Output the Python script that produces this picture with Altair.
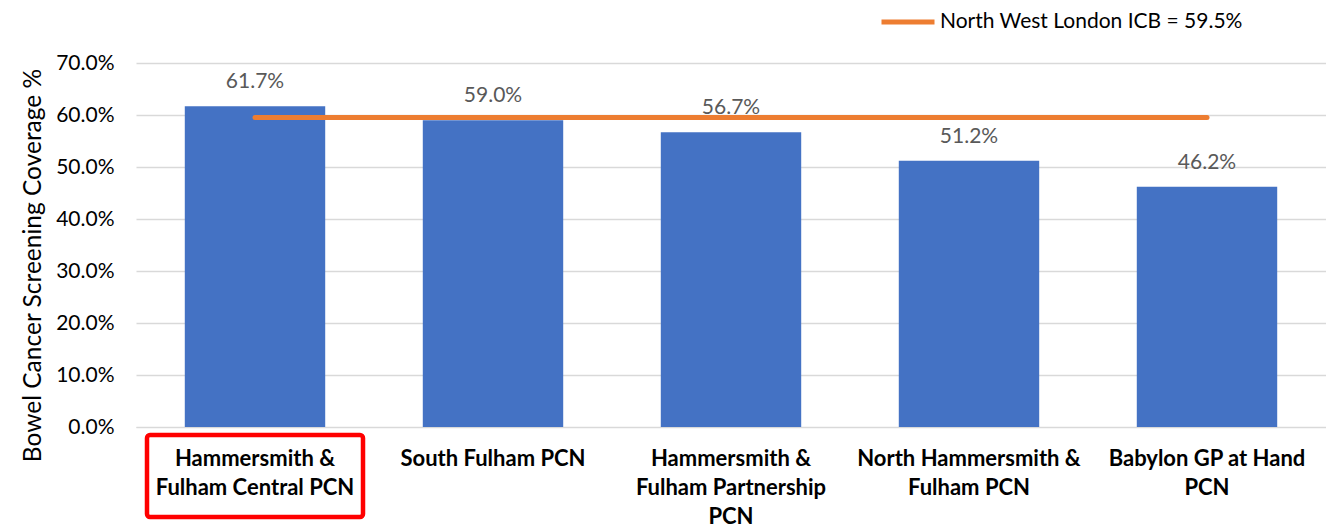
import altair as alt
import pandas as pd

categories = [
    "Hammersmith & Fulham Central PCN",
    "South Fulham PCN",
    "Hammersmith & Fulham Partnership PCN",
    "North Hammersmith & Fulham PCN",
    "Babylon GP at Hand PCN",
]
tick_labels = [
    "Hammersmith &|Fulham Central PCN",
    "South Fulham PCN",
    "Hammersmith &|Fulham Partnership|PCN",
    "North Hammersmith &|Fulham PCN",
    "Babylon GP at Hand|PCN",
]
coverage = [61.7, 59.0, 56.7, 51.2, 46.2]
icb_label = "North West London ICB = 59.5%"
icb_value = 59.5
highlighted = ["Hammersmith & Fulham Central PCN"]

FONT = "Lato"

df = pd.DataFrame({"cat": categories, "label": tick_labels, "value": coverage})
df["icb"] = icb_value
df["series"] = icb_label

label_map = "{" + ",".join(f'"{c}":"{l}"' for c, l in zip(categories, tick_labels)) + "}"

x = alt.X(
    "cat:N",
    sort=categories,
    scale=alt.Scale(paddingInner=0.41, paddingOuter=0.205),
    axis=alt.Axis(
        title=None,
        labelExpr=f"split({label_map}[datum.value], '|')",
        labelAngle=0,
        labelFont=FONT,
        labelFontSize=22,
        labelFontWeight="bold",
        labelColor="#000000",
        labelLineHeight=29,
        labelPadding=21,
        labelBaseline="top",
        ticks=False,
        domainColor="#d9d9d9",
        labelLimit=300,
    ),
)

base = alt.Chart(df)

bars = base.mark_bar(color="#4472C4").encode(
    x=x,
    y=alt.Y(
        "value:Q",
        scale=alt.Scale(domain=[0, 70]),
        axis=alt.Axis(
            title="Bowel Cancer Screening Coverage %",
            values=[0, 10, 20, 30, 40, 50, 60, 70],
            labelExpr="format(datum.value, '.1f') + '%'",
            labelFont=FONT,
            labelFontSize=21,
            labelColor="#000000",
            labelPadding=22,
            ticks=False,
            domain=False,
            gridColor="#d9d9d9",
            gridWidth=1.5,
            titleFont=FONT,
            titleFontSize=24.5,
            titleFontWeight="normal",
            titleColor="#000000",
            titlePadding=10,
            titleY=202,
        ),
    ),
)

text = base.transform_calculate(
    txt="format(datum.value, '.1f') + '%'"
).mark_text(
    baseline="bottom", dy=-14, font=FONT, fontSize=21, color="#595959"
).encode(
    x=alt.X("cat:N", sort=categories),
    y="value:Q",
    text="txt:N",
)

line = base.mark_line(strokeWidth=5, strokeCap="round").encode(
    x=alt.X("cat:N", sort=categories),
    y="icb:Q",
    color=alt.Color(
        "series:N",
        scale=alt.Scale(domain=[icb_label], range=["#ED7D31"]),
        legend=alt.Legend(
            title=None,
            orient="none",
            legendX=743,
            legendY=-70,
            symbolType="stroke",
            symbolSize=2809,
            symbolStrokeWidth=5,
            labelFont=FONT,
            labelFontSize=21,
            labelColor="#000000",
            labelOffset=3,
            labelLimit=400,
        ),
    ),
)

box = base.transform_filter(
    alt.FieldOneOfPredicate(field="cat", oneOf=highlighted)
).mark_bar(
    width=216, filled=False, stroke="#FF0000", strokeWidth=4.5, cornerRadius=3
).encode(
    x=alt.X("cat:N", sort=categories),
    y=alt.value(372),
    y2=alt.value(454),
)

chart = (
    alt.layer(bars, line, text, box)
    .properties(
        width=1190,
        height=364,
        padding={"left": 128, "top": 55, "right": 0, "bottom": 100},
        autosize=alt.AutoSizeParams(type="none"),
    )
    .configure_view(stroke=None)
)

chart.save("out.html", embed_options={"renderer": "svg", "actions": False})
